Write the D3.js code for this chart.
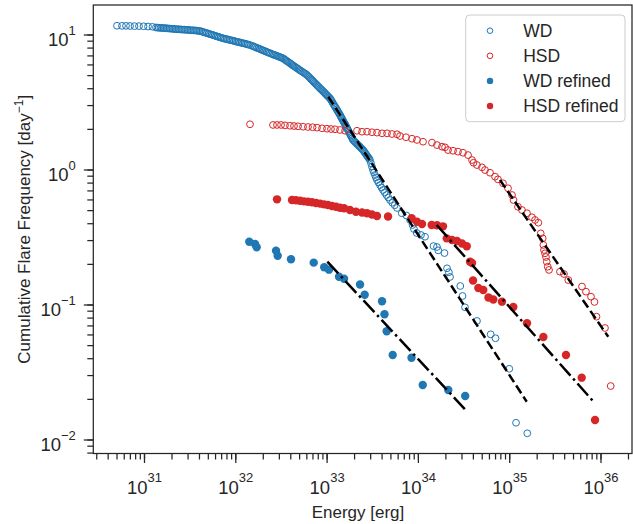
<!DOCTYPE html>
<html>
<head>
<meta charset="UTF-8">
<title>Cumulative flare frequency</title>
<script src="https://cdn.jsdelivr.net/npm/d3@7/dist/d3.min.js"></script>
<style>
  body { margin: 0; background: #fff; }
  svg { display: block; font-family: "Liberation Sans", Arial, sans-serif; }
</style>
</head>
<body>
<div id="chart"></div>
<script>
// values, stored as log10(energy [erg]) and log10(frequency [1/day])
var wdLogE = [30.704,30.759,30.803,30.847,30.896,30.945,30.995,31.044,31.093,
  31.131,31.164,31.197,31.230,31.263,31.296,31.329,31.361,31.394,31.427,31.460,31.493,31.526,31.559,31.591,
  31.624,31.657,31.690,31.723,31.756,31.789,31.821,31.854,
  31.887,31.920,31.953,31.986,32.019,32.051,32.084,32.117,32.150,
  32.192,32.221,32.252,32.283,32.313,32.343,32.374,
  32.409,32.437,32.466,32.494,32.522,
  32.548,32.574,32.599,32.624,32.651,32.676,
  32.703,32.731,32.758,32.785,
  32.809,32.832,32.857,32.881,32.904,32.928,
  32.950,32.972,32.993,33.015,33.037,
  33.056,33.073,33.092,33.111,33.128,33.147,
  33.162,33.177,33.193,33.208,33.223,
  33.240,33.256,33.273,33.289,
  33.311,33.333,33.355,33.377,33.399,
  33.418,33.437,33.456,33.475,
  33.486,33.497,33.508,
  33.519,33.530,33.541,33.552,
  33.568,33.585,33.601,33.618,
  33.637,33.656,33.675,33.694,
  33.720,33.746,33.771,
  33.823,33.875,33.914,33.941,33.957,33.987,34.034,34.078,34.171,34.209,34.223,34.291,
  34.319,34.339,34.352,34.464,34.489,34.516,34.647,34.797,34.850,35.001,35.075,35.198,
  // more markers inside the dense band
  31.148,31.181,31.214,31.247,31.280,31.313,31.345,31.378,31.411,31.444,31.477,31.510,31.543,31.575,
  31.608,31.641,31.674,31.707,31.740,31.773,31.805,31.838,31.871,31.904,31.937,31.970,32.003,32.035,
  32.068,32.101,32.134,32.171,32.207,32.237,32.268,32.298,32.328,32.359,32.392,32.423,32.452,32.480,
  32.508,32.535,32.561,32.587,32.612,32.638,32.664,32.690,32.717,32.745,32.772,32.797,32.821,32.845,
  32.869,32.893,32.916,32.939,32.961,32.983,33.004,33.026,33.047,33.065,33.083,33.102,33.120,33.138,
  33.155,33.170,33.185,33.201,33.216,33.232,33.248,33.265,33.281,33.300,33.322,33.344,33.366,33.388,
  33.409,33.428,33.447,33.466];
var wdLogF = [1.065,1.064,1.064,1.063,1.062,1.062,1.061,1.059,1.057,
  1.052,1.050,1.048,1.047,1.045,1.043,1.041,1.039,1.038,1.036,1.035,1.033,1.031,1.030,1.027,
  1.024,1.016,1.010,1.002,0.996,0.988,0.981,0.974,
  0.968,0.963,0.957,0.952,0.946,0.941,0.935,0.930,0.924,
  0.914,0.905,0.897,0.888,0.880,0.871,0.863,
  0.853,0.846,0.839,0.831,0.824,
  0.811,0.799,0.787,0.774,0.762,0.750,
  0.737,0.725,0.713,0.700,
  0.684,0.667,0.650,0.634,0.618,0.601,
  0.587,0.572,0.557,0.542,0.527,
  0.507,0.486,0.466,0.445,0.425,0.404,
  0.384,0.365,0.346,0.327,0.307,
  0.285,0.263,0.241,0.219,
  0.204,0.189,0.174,0.159,0.144,
  0.126,0.107,0.089,0.070,
  0.046,0.021,-0.004,
  -0.022,-0.041,-0.059,-0.078,
  -0.096,-0.115,-0.133,-0.152,
  -0.170,-0.189,-0.207,-0.226,
  -0.246,-0.265,-0.285,
  -0.324,-0.341,-0.374,-0.411,-0.441,-0.470,-0.485,-0.498,-0.567,-0.574,-0.599,-0.619,
  -0.732,-0.761,-0.796,-0.863,-0.937,-1.021,-1.122,-1.221,-1.250,-1.476,-1.876,-1.954,
  1.051,1.049,1.048,1.046,1.044,1.042,1.040,1.039,1.037,1.036,1.034,1.032,1.031,1.029,
  1.026,1.020,1.013,1.006,0.999,0.992,0.985,0.978,0.971,0.966,0.960,0.955,0.949,0.944,
  0.938,0.933,0.927,0.919,0.910,0.901,0.893,0.884,0.876,0.867,0.858,0.850,0.843,0.835,
  0.828,0.818,0.805,0.793,0.781,0.768,0.756,0.744,0.731,0.719,0.707,0.692,0.676,0.659,
  0.642,0.626,0.610,0.594,0.580,0.565,0.550,0.535,0.517,0.497,0.476,0.456,0.435,0.415,
  0.394,0.375,0.356,0.337,0.317,0.296,0.274,0.252,0.230,0.212,0.197,0.182,0.167,0.152,
  0.135,0.117,0.098,0.080];

var hsdLogE = [32.161,32.413,32.457,32.501,32.544,32.599,32.643,32.687,32.742,32.796,32.846,32.895,
  32.950,33.004,33.048,33.092,33.147,33.202,33.333,33.388,33.443,33.497,33.552,33.607,33.662,33.716,
  33.771,33.804,33.870,33.935,33.990,34.056,34.154,34.209,34.264,34.297,34.330,34.385,34.439,34.494,
  34.549,34.593,34.609,34.647,34.702,34.735,34.790,34.845,34.877,34.932,34.987,35.031,35.047,35.096,
  35.140,35.195,35.250,35.283,35.319,35.345,35.367,35.374,35.381,35.392,35.403,35.411,35.422,35.436,
  35.556,35.600,35.647,35.797,35.841,35.896,35.934,35.956,36.049,36.112];
var hsdLogF = [0.335,0.330,0.330,0.330,0.327,0.324,0.322,0.320,0.317,0.315,0.313,0.310,
  0.305,0.302,0.300,0.298,0.293,0.287,0.287,0.280,0.280,0.276,0.273,0.268,0.268,0.263,
  0.261,0.248,0.239,0.228,0.219,0.206,0.199,0.181,0.169,0.164,0.144,0.139,0.132,0.124,
  0.107,0.070,0.050,0.033,0.016,-0.004,-0.024,-0.053,-0.073,-0.102,-0.139,-0.189,-0.226,-0.276,
  -0.300,-0.324,-0.354,-0.374,-0.394,-0.473,-0.510,-0.559,-0.596,-0.621,-0.648,-0.683,-0.720,-0.744,
  -0.757,-0.774,-0.819,-0.867,-0.905,-0.942,-0.981,-1.090,-1.174,-1.604];

var wdRefLogE = [32.153,32.216,32.234,32.446,32.464,32.610,32.859,32.974,33.026,33.136,33.191,
  33.366,33.417,33.607,33.634,33.658,33.724,33.930,34.053,34.333,34.518];
var wdRefLogF = [-0.535,-0.552,-0.576,-0.601,-0.639,-0.665,-0.690,-0.724,-0.742,-0.794,-0.809,
  -0.852,-0.928,-0.976,-1.072,-1.198,-1.374,-1.394,-1.596,-1.633,-1.678];

var hsdRefLogE = [32.457,32.621,32.665,32.709,32.753,32.796,32.840,32.884,32.928,32.972,33.015,33.059,
  33.103,33.147,33.191,33.256,33.322,33.388,33.443,33.497,33.552,33.673,33.932,33.990,34.045,34.151,
  34.209,34.275,34.316,34.374,34.428,34.483,34.535,34.571,34.593,34.604,34.662,34.716,34.773,34.826,
  34.921,35.045,35.195,35.374,35.622,35.794,35.940];
var hsdRefLogF = [-0.221,-0.226,-0.228,-0.231,-0.236,-0.239,-0.243,-0.248,-0.253,-0.258,-0.263,-0.270,
  -0.276,-0.283,-0.287,-0.300,-0.313,-0.319,-0.324,-0.333,-0.344,-0.348,-0.361,-0.387,-0.404,-0.411,
  -0.413,-0.421,-0.510,-0.522,-0.530,-0.548,-0.569,-0.683,-0.693,-0.822,-0.878,-0.893,-0.948,-0.963,
  -0.979,-1.019,-1.139,-1.241,-1.374,-1.542,-1.856];

// power-law fits (end points)
var wdFitLogE = [33.019, 35.192], wdFitLogF = [0.539, -1.720];
var hsdFitLogE = [34.899, 36.085], hsdFitLogF = [-0.078, -1.239];
var wdRefFitLogE = [33.008, 34.516], wdRefFitLogF = [-0.683, -1.776];
var hsdRefFitLogE = [34.206, 35.940], hsdRefFitLogF = [-0.411, -1.732];

// tick labels
var xTickExp = [31, 32, 33, 34, 35, 36];
var yTickExp = [-2, -1, 0, 1];

var width = 633, height = 524;
var plot = {left: 93.3, top: 5, right: 632, bottom: 453.5};
var blue = "#1f77b4", red = "#d62728", ink = "#262626";

var x = d3.scaleLog().domain([Math.pow(10, 30.4447), Math.pow(10, 36.345)]).range([plot.left, plot.right]);
var y = d3.scaleLog().domain([Math.pow(10, -2.1037), Math.pow(10, 1.2185)]).range([plot.bottom, plot.top]);

function pts(le, lf) {
  return d3.zip(le, lf).map(function(p){ return [Math.pow(10, p[0]), Math.pow(10, p[1])]; });
}
function supText(sel, exp, big, small, dy) {
  sel.append("tspan").attr("font-size", big).text("10");
  sel.append("tspan").attr("font-size", small).attr("dy", dy)
    .text(String(exp).replace("-", "\u2212"));
}
function minorTicks(lo, hi) {
  var out = [];
  for (var e = lo; e <= hi; e++) for (var m = 1; m < 10; m++) out.push(m * Math.pow(10, e));
  return out;
}

var svg = d3.select("#chart").append("svg").attr("width", width).attr("height", height);

// axes
var xMin = x.domain()[0], xMax = x.domain()[1], yMin = y.domain()[0], yMax = y.domain()[1];
var xMinor = minorTicks(30, 36).filter(function(v){ return v >= xMin && v <= xMax; });
var yMinor = minorTicks(-3, 1).filter(function(v){ return v >= yMin && v <= yMax; });

var gxm = svg.append("g").attr("transform", "translate(0," + plot.bottom + ")")
  .call(d3.axisBottom(x).tickValues(xMinor).tickSize(6).tickFormat(""));
var gx = svg.append("g").attr("transform", "translate(0," + plot.bottom + ")")
  .call(d3.axisBottom(x).tickValues(xTickExp.map(function(e){ return Math.pow(10, e); })).tickSize(9.5).tickFormat(""));
var gym = svg.append("g").attr("transform", "translate(" + plot.left + ",0)")
  .call(d3.axisLeft(y).tickValues(yMinor).tickSize(6).tickFormat(""));
var gy = svg.append("g").attr("transform", "translate(" + plot.left + ",0)")
  .call(d3.axisLeft(y).tickValues(yTickExp.map(function(e){ return Math.pow(10, e); })).tickSize(9.5).tickFormat(""));

[gxm, gx, gym, gy].forEach(function(g){
  g.select(".domain").remove();
  g.selectAll(".tick line").attr("stroke", ink).attr("stroke-width", 1.25);
});

gx.selectAll(".tick").append("text")
  .attr("y", 40.5).attr("text-anchor", "middle").attr("fill", ink)
  .each(function(d){ supText(d3.select(this), Math.round(Math.log10(d)), 18.5, 13, -12); });
gy.selectAll(".tick").append("text")
  .attr("x", -17.5).attr("y", 11).attr("text-anchor", "end").attr("fill", ink)
  .each(function(d){ supText(d3.select(this), Math.round(Math.log10(d)), 18.5, 13, -11); });

// frame
svg.append("rect")
  .attr("x", plot.left).attr("y", plot.top)
  .attr("width", plot.right - plot.left).attr("height", plot.bottom - plot.top)
  .attr("fill", "none").attr("stroke", ink).attr("stroke-width", 1.25);

// axis titles
svg.append("text")
  .attr("x", 358).attr("y", 518)
  .attr("text-anchor", "middle").attr("font-size", 17).attr("fill", ink)
  .text("Energy [erg]");
var yl = svg.append("text")
  .attr("transform", "translate(30," + (plot.top + plot.bottom) / 2 + ") rotate(-90)")
  .attr("text-anchor", "middle").attr("font-size", 17).attr("fill", ink);
yl.append("tspan").text("Cumulative Flare Frequency [day");
yl.append("tspan").attr("font-size", 12).attr("dy", -7).text("\u22121");
yl.append("tspan").attr("dy", 7).text("]");

// markers
function openDots(data, color) {
  svg.append("g").selectAll("circle").data(data).enter().append("circle")
    .attr("cx", function(d){ return x(d[0]); })
    .attr("cy", function(d){ return y(d[1]); })
    .attr("r", 3.4)
    .attr("fill", "none").attr("stroke", color).attr("stroke-width", 1);
}
function filledDots(data, color) {
  svg.append("g").selectAll("circle").data(data).enter().append("circle")
    .attr("cx", function(d){ return x(d[0]); })
    .attr("cy", function(d){ return y(d[1]); })
    .attr("r", 4.2)
    .attr("fill", color);
}
openDots(pts(wdLogE, wdLogF), blue);
openDots(pts(hsdLogE, hsdLogF), red);
filledDots(pts(wdRefLogE, wdRefLogF), blue);
filledDots(pts(hsdRefLogE, hsdRefLogF), red);

// fit lines
var line = d3.line().x(function(d){ return x(d[0]); }).y(function(d){ return y(d[1]); });
function fit(le, lf, dash) {
  svg.append("path").datum(pts(le, lf))
    .attr("d", line).attr("fill", "none").attr("stroke", "#000")
    .attr("stroke-width", 2.5).attr("stroke-dasharray", dash);
}
fit(wdFitLogE, wdFitLogF, "9.25,4");
fit(hsdFitLogE, hsdFitLogF, "9.25,4");
fit(wdRefFitLogE, wdRefFitLogF, "16,4,2.5,4");
fit(hsdRefFitLogE, hsdRefFitLogF, "16,4,2.5,4");

// legend
var legendItems = [
  {label: "WD", color: blue, filled: false},
  {label: "HSD", color: red, filled: false},
  {label: "WD refined", color: blue, filled: true},
  {label: "HSD refined", color: red, filled: true}
];
var lg = svg.append("g").attr("transform", "translate(465.7,15)");
lg.append("rect").attr("width", 159.3).attr("height", 106.7).attr("rx", 4)
  .attr("fill", "#fff").attr("fill-opacity", 0.8).attr("stroke", "#cccccc").attr("stroke-width", 1);
var li = lg.selectAll("g.item").data(legendItems).enter().append("g")
  .attr("class", "item")
  .attr("transform", function(d, i){ return "translate(0," + (15.7 + i * 25.1) + ")"; });
li.append("circle").attr("cx", 24.3).attr("cy", 0)
  .attr("r", function(d){ return d.filled ? 3.2 : 2.8; })
  .attr("fill", function(d){ return d.filled ? d.color : "none"; })
  .attr("stroke", function(d){ return d.filled ? "none" : d.color; })
  .attr("stroke-width", 1);
li.append("text").attr("x", 57.5).attr("y", 6.2)
  .attr("font-size", 17.5).attr("fill", ink)
  .text(function(d){ return d.label; });
</script>
</body>
</html>
